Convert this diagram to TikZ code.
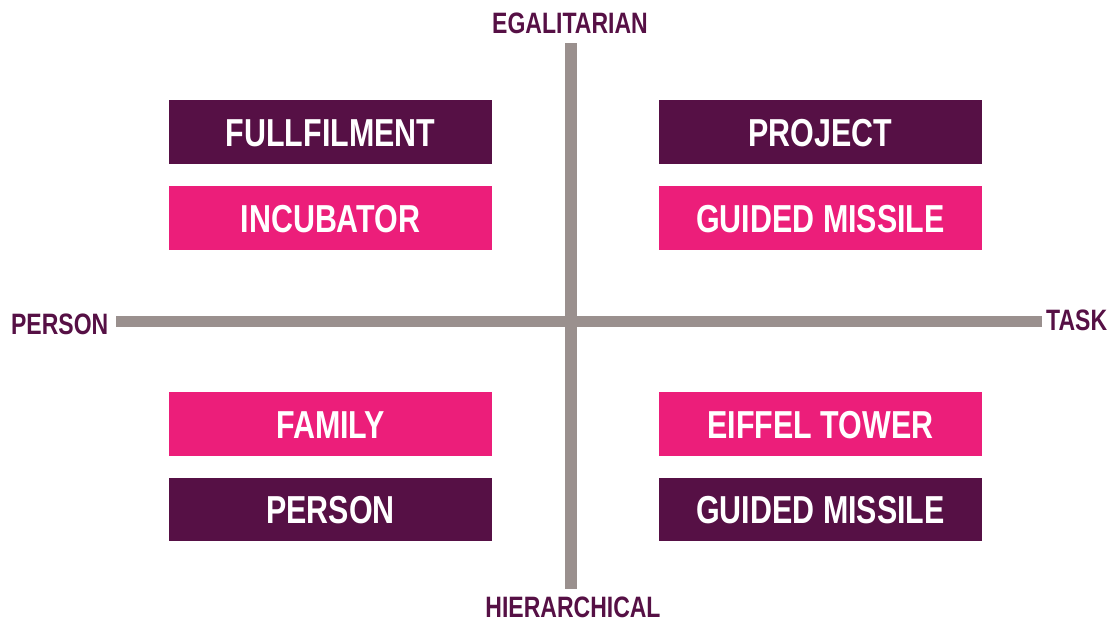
\documentclass[tikz,border=0pt]{standalone}
\usepackage{fontspec}
\setmainfont[FakeStretch=0.78]{Liberation Sans}
\definecolor{dpurple}{HTML}{561045}
\definecolor{hpink}{HTML}{EC1E7A}
\definecolor{agray}{HTML}{9A908E}
\tikzset{
  qbox/.style={rectangle, inner sep=0pt, minimum width=323pt, minimum height=63.5pt,
    text=white, font=\fontsize{39}{39}\selectfont\bfseries, text height=28pt, text depth=0pt},
  darkbox/.style={qbox, fill=dpurple},
  pinkbox/.style={qbox, fill=hpink},
  axislabel/.style={inner sep=0pt, text=dpurple, font=\fontsize{29.5}{29.5}\selectfont\bfseries, text height=21pt, text depth=0pt},
  axisline/.style={draw=agray, line width=11.5pt}
}
\begin{document}
\begin{tikzpicture}[x=1pt,y=-1pt]
\useasboundingbox (0,0) rectangle (1115,621);
% axes
\coordinate (vtop) at (571,43);
\coordinate (vbot) at (571,589);
\coordinate (hl) at (116,321.5);
\coordinate (hr) at (1042,321.5);
\draw[axisline] (vtop) -- (vbot);
\draw[axisline] (hl) -- (hr);
% axis labels
\node[axislabel] (egal) at (570,23) {EGALITARIAN};
\node[axislabel] (hier) at (573,606.5) {HIERARCHICAL};
\node[axislabel, anchor=east] (lperson) at (108.5,324) {PERSON};
\node[axislabel, anchor=west] (task) at (1046,320) {TASK};
% boxes
\node[darkbox] (fullf) at (330.5,132) {FULLFILMENT};
\node[pinkbox] (incub) at (330.5,218) {INCUBATOR};
\node[darkbox] (proj) at (820.5,132) {PROJECT};
\node[pinkbox] (gm1) at (820.5,218) {GUIDED MISSILE};
\node[pinkbox] (fam) at (330.5,424) {FAMILY};
\node[darkbox] (pers) at (330.5,509.5) {PERSON};
\node[pinkbox] (eiff) at (820.5,424) {EIFFEL TOWER};
\node[darkbox] (gm2) at (820.5,509.5) {GUIDED MISSILE};
\end{tikzpicture}
\end{document}
